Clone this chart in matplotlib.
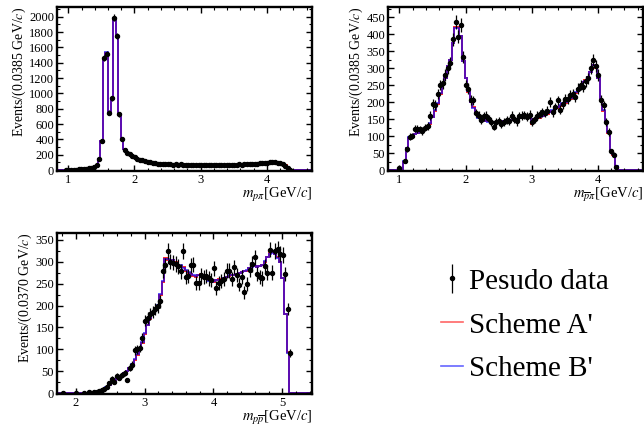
import numpy as np
import matplotlib
matplotlib.use('Agg')
import matplotlib.pyplot as plt
from matplotlib.ticker import MultipleLocator, AutoMinorLocator
from matplotlib.lines import Line2D

plt.rcParams['font.family'] = ['Liberation Serif', 'DejaVu Serif']
plt.rcParams['mathtext.fontset'] = 'stix'

# binning of the three mass spectra
n_bins = 100
ppi_range = (0.83, 4.68)
pbarpi_range = (0.83, 4.68)
ppbar_range = (1.73, 5.43)

# m(p pi)
ppi_data = [0, 0, 0, 1, 3, 2, 5, 6, 9, 12,
            14, 15, 21, 26, 34, 60, 150, 385, 1460, 1520,
            750, 935, 1985, 1745, 725, 405, 265, 225, 205, 185,
            165, 140, 132, 128, 112, 105, 103, 92, 88, 85,
            80, 82, 76, 74, 78, 72, 74, 70, 73, 68,
            72, 70, 66, 69, 65, 68, 64, 67, 63, 66,
            64, 67, 63, 68, 65, 69, 66, 70, 67, 71,
            68, 73, 70, 75, 73, 79, 77, 84, 83, 89,
            86, 90, 94, 100, 108, 102, 98, 92, 82, 58,
            22, 4, 0, 0, 0, 0, 0, 0, 0, 0]
ppi_schemeA = [0, 0, 0, 1, 2, 3, 4, 6, 8, 10,
               13, 16, 20, 25, 32, 55, 140, 380, 1450, 1530,
               750, 930, 1970, 1740, 720, 410, 270, 225, 200, 180,
               160, 145, 135, 125, 115, 108, 100, 95, 90, 86,
               83, 80, 78, 76, 75, 74, 73, 72, 71, 70,
               70, 69, 68, 68, 67, 67, 66, 66, 65, 65,
               65, 65, 65, 66, 66, 67, 67, 68, 68, 69,
               70, 71, 72, 73, 75, 77, 79, 82, 85, 87,
               88, 89, 92, 98, 103, 105, 100, 95, 85, 60,
               25, 3, 0, 0, 0, 0, 0, 0, 0, 0]
ppi_schemeB = [0, 0, 0, 1, 2, 3, 5, 6, 8, 11,
               13, 17, 21, 26, 33, 57, 145, 375, 1440, 1535,
               760, 925, 1980, 1735, 725, 405, 272, 222, 198, 178,
               158, 146, 134, 124, 116, 107, 101, 94, 90, 85,
               82, 80, 77, 76, 74, 74, 72, 72, 70, 70,
               69, 69, 68, 67, 67, 66, 66, 65, 65, 65,
               64, 65, 65, 65, 66, 66, 67, 67, 68, 69,
               70, 71, 72, 74, 75, 77, 80, 82, 84, 87,
               88, 90, 93, 97, 104, 104, 101, 94, 84, 58,
               24, 3, 0, 0, 0, 0, 0, 0, 0, 0]

# m(pbar pi)
pbarpi_data = [0, 0, 0, 0, 6, 0, 26, 62, 98, 100,
               122, 121, 120, 115, 125, 130, 160, 194, 192, 225,
               250, 255, 280, 300, 315, 385, 435, 393, 428, 332,
               250, 240, 207, 205, 168, 160, 148, 158, 160, 150,
               140, 128, 142, 145, 135, 140, 148, 145, 160, 150,
               143, 158, 160, 162, 157, 163, 140, 150, 160, 165,
               170, 168, 175, 200, 170, 185, 205, 178, 195, 208,
               210, 220, 225, 215, 240, 250, 245, 262, 270, 300,
               325, 305, 280, 207, 190, 140, 112, 55, 45, 10,
               0, 0, 0, 0, 0, 0, 0, 0, 0, 0]
pbarpi_schemeA = [0, 0, 0, 0, 0, 0, 25, 65, 95, 97,
                  105, 108, 112, 115, 120, 125, 135, 155, 175, 195,
                  225, 250, 270, 305, 325, 375, 420, 420, 395, 320,
                  270, 230, 200, 185, 165, 155, 150, 147, 145, 143,
                  142, 141, 140, 140, 141, 143, 145, 146, 147, 148,
                  150, 152, 153, 155, 156, 157, 135, 150, 152, 154,
                  158, 162, 166, 170, 175, 180, 184, 188, 193, 198,
                  203, 210, 218, 228, 238, 248, 258, 265, 275, 290,
                  310, 300, 270, 205, 175, 140, 110, 55, 45, 10,
                  0, 0, 0, 0, 0, 0, 0, 0, 0, 0]
pbarpi_schemeB = [0, 0, 0, 0, 0, 0, 26, 66, 96, 98,
                  106, 109, 113, 117, 121, 127, 137, 156, 177, 197,
                  226, 252, 272, 306, 324, 373, 418, 419, 396, 322,
                  272, 232, 201, 184, 164, 154, 149, 146, 144, 142,
                  141, 140, 140, 141, 142, 144, 146, 147, 148, 150,
                  151, 152, 154, 155, 156, 156, 140, 151, 153, 156,
                  160, 164, 168, 172, 178, 182, 186, 190, 196, 200,
                  206, 212, 220, 230, 240, 250, 260, 262, 274, 288,
                  308, 302, 272, 207, 176, 141, 111, 56, 46, 11,
                  0, 0, 0, 0, 0, 0, 0, 0, 0, 0]

# m(p pbar)
ppbar_data = [0, 0, 1, 0, 0, 0, 0, 1, 0, 0,
              1, 0, 2, 1, 2, 3, 4, 6, 9, 14,
              22, 33, 26, 40, 35, 42, 45, 30, 58, 65,
              98, 100, 103, 125, 165, 172, 180, 185, 192, 198,
              210, 280, 292, 325, 300, 298, 295, 290, 278, 325,
              265, 268, 292, 293, 252, 252, 270, 265, 268, 262,
              258, 285, 240, 252, 256, 260, 280, 280, 260, 288,
              270, 248, 266, 230, 250, 282, 295, 310, 272, 265,
              262, 290, 275, 328, 275, 325, 330, 318, 315, 272,
              192, 92, 0, 0, 0, 0, 0, 0, 0, 0]
ppbar_schemeA = [0, 0, 0, 0, 0, 0, 0, 0, 0, 0,
                 0, 0, 0, 1, 1, 2, 3, 5, 8, 12,
                 18, 24, 29, 33, 37, 41, 45, 50, 57, 65,
                 75, 88, 100, 115, 135, 155, 170, 180, 188, 200,
                 225, 255, 308, 305, 298, 305, 300, 285, 290, 288,
                 280, 275, 272, 268, 266, 270, 272, 268, 263, 258,
                 256, 255, 258, 260, 258, 262, 265, 268, 270, 270,
                 272, 275, 276, 278, 280, 285, 290, 290, 288, 290,
                 292, 300, 310, 320, 322, 318, 310, 300, 262, 180,
                 93, 0, 0, 0, 0, 0, 0, 0, 0, 0]
ppbar_schemeB = [0, 0, 0, 0, 0, 0, 0, 0, 0, 0,
                 0, 0, 0, 1, 1, 2, 3, 5, 8, 13,
                 19, 25, 30, 34, 38, 42, 46, 51, 58, 66,
                 77, 90, 102, 117, 137, 156, 171, 181, 189, 201,
                 226, 256, 306, 306, 300, 304, 298, 286, 292, 287,
                 281, 276, 273, 269, 267, 271, 271, 267, 262, 257,
                 255, 256, 259, 259, 259, 263, 266, 269, 270, 271,
                 273, 274, 277, 279, 281, 286, 289, 291, 289, 291,
                 293, 301, 311, 318, 320, 317, 309, 299, 263, 181,
                 92, 0, 0, 0, 0, 0, 0, 0, 0, 0]


def draw_panel(ax, xr, data, sa, sb, xlabel, ylabel, ymax, ymajor):
    edges = np.linspace(xr[0], xr[1], n_bins + 1)
    centers = 0.5 * (edges[1:] + edges[:-1])
    data = np.array(data, dtype=float)
    ax.stairs(sa, edges, color='red', lw=1.4, alpha=0.85, baseline=None)
    ax.stairs(sb, edges, color='blue', lw=1.4, alpha=0.65, baseline=None)
    m = data > 0
    eb = ax.errorbar(centers[m], data[m], yerr=np.sqrt(data[m]), fmt='o',
                     color='black', ms=2.9, elinewidth=0.9, capsize=0)
    ax.set_xlim(xr)
    ax.set_ylim(-0.006 * ymax, ymax)
    ax.xaxis.set_major_locator(MultipleLocator(1))
    ax.xaxis.set_minor_locator(AutoMinorLocator(5))
    ax.yaxis.set_major_locator(MultipleLocator(ymajor))
    ax.yaxis.set_minor_locator(AutoMinorLocator(2))
    ax.tick_params(which='both', direction='in', top=True, right=True,
                   labelsize=9, pad=2)
    ax.tick_params(which='major', length=4, width=1)
    ax.tick_params(which='minor', length=2, width=0.8)
    for s in ax.spines.values():
        s.set_linewidth(1.7)
    ax.set_xlabel(xlabel, loc='right', fontsize=10.5, labelpad=0)
    ax.set_ylabel(ylabel, loc='top', fontsize=10, labelpad=1)
    return eb


fig = plt.figure(figsize=(6.44, 4.25), dpi=100)
ax1 = fig.add_axes([0.0885, 0.5976, 0.396, 0.386])
ax2 = fig.add_axes([0.6025, 0.5976, 0.396, 0.386])
ax3 = fig.add_axes([0.0885, 0.0729, 0.396, 0.379])

draw_panel(ax1, ppi_range, ppi_data, ppi_schemeA, ppi_schemeB,
           r'$m_{p\pi}$[GeV/$c$]', r'Events/(0.0385 GeV/$c$)', 2127, 200)
draw_panel(ax2, pbarpi_range, pbarpi_data, pbarpi_schemeA, pbarpi_schemeB,
           r'$m_{\overline{p}\pi}$[GeV/$c$]', r'Events/(0.0385 GeV/$c$)', 480, 50)
eb = draw_panel(ax3, ppbar_range, ppbar_data, ppbar_schemeA, ppbar_schemeB,
                r'$m_{p\overline{p}}$[GeV/$c$]', r'Events/(0.0370 GeV/$c$)', 366, 50)

h_a = Line2D([], [], color='red', lw=1.2, alpha=0.6)
h_b = Line2D([], [], color='blue', lw=1.2, alpha=0.6)
fig.legend([eb, h_a, h_b], ['Pesudo data', "Scheme A'", "Scheme B'"],
           loc='upper left', bbox_to_anchor=(415 / 644, 1 - 242 / 425),
           frameon=False, fontsize=21, handlelength=0.75, handletextpad=0.2,
           labelspacing=0.6)

fig.savefig('out.png', dpi=100)
